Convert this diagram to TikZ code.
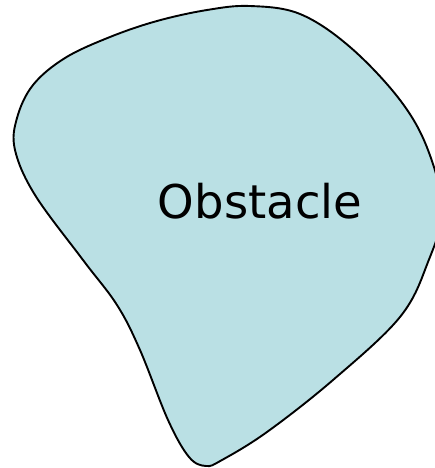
\documentclass[tikz,border=0pt]{standalone}
\usepackage{fontspec}
\setmainfont{DejaVu Sans}
\definecolor{obstaclefill}{RGB}{186,224,228}

\begin{document}
\begin{tikzpicture}[
  x=1pt,y=-1pt,
  blob/.style={draw=black,line width=1.9pt,fill=obstaclefill},
  lbl/.style={font=\fontsize{46.5}{52}\selectfont,inner sep=0pt}]
\useasboundingbox (0,0) rectangle (435,468);
\clip (0,0) rectangle (435,468);
% obstacle outline
\draw[blob] plot[smooth cycle,tension=0.6] coordinates {
  (250,6) (300,14) (350,47) (400,100) (428,150) (442,210) (428,262)
  (400,317) (333,380) (267,432) (222,460) (206,466) (189,457)
  (168,420) (140,350) (117,305) (83,260) (35,195) (15,150) (17,118)
  (33,85) (65,58) (110,37) (157,21) (207,10)};
\node[lbl,anchor=base] (obstacle) at (260,218) {Obstacle};
\end{tikzpicture}
\end{document}
